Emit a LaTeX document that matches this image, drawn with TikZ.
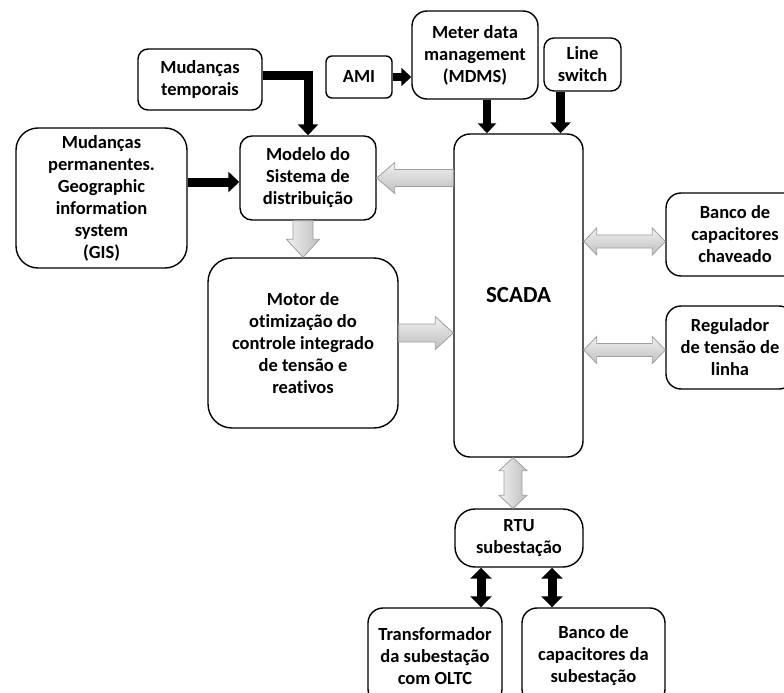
\documentclass[tikz,border=0pt]{standalone}
\usepackage{fontspec}
\setmainfont{Carlito}[Ligatures=NoCommon]
\usetikzlibrary{arrows.meta,calc}

\tikzset{
  box/.style={draw, line width=1.4pt, rounded corners=#1, align=center,
    font=\bfseries\fontsize{18.5}{22}\selectfont, inner sep=0pt, fill=white},
  box/.default=12pt,
  blk/.style={line width=9pt, line join=miter, -{Triangle[length=11pt,width=20pt]}},
  blkd/.style={line width=9pt, {Triangle[length=11pt,width=21pt]}-{Triangle[length=11pt,width=21pt]}},
  gstyle/.style={draw=gray!75, line width=0.8pt},
  hshade/.style={top color=gray!12, bottom color=gray!50},
  vshade/.style={left color=gray!12, right color=gray!50},
}

% single block arrow: #1 from, #2 tip, #3 half shaft, #4 half head, #5 head length, #6 shading
\newcommand{\gsarrow}[6]{%
  \coordinate (gh) at ($(#2)!#5!(#1)$);
  \shadedraw[gstyle,#6] ($(#1)!#3!90:(#2)$) -- ($(gh)!#3!-90:(#1)$) -- ($(gh)!#4!-90:(#1)$)
    -- (#2) -- ($(gh)!#4!90:(#1)$) -- ($(gh)!#3!90:(#1)$) -- ($(#1)!#3!-90:(#2)$) -- cycle;
}
% double block arrow
\newcommand{\gdarrow}[6]{%
  \coordinate (ga) at ($(#1)!#5!(#2)$);
  \coordinate (gb) at ($(#2)!#5!(#1)$);
  \shadedraw[gstyle,#6] (#1) -- ($(ga)!#4!90:(#2)$) -- ($(ga)!#3!90:(#2)$) -- ($(gb)!#3!-90:(#1)$)
    -- ($(gb)!#4!-90:(#1)$) -- (#2) -- ($(gb)!#4!90:(#1)$) -- ($(gb)!#3!90:(#1)$)
    -- ($(ga)!#3!-90:(#2)$) -- ($(ga)!#4!-90:(#2)$) -- cycle;
}

\begin{document}
\begin{tikzpicture}[x=1pt,y=-1pt]
\useasboundingbox (0,0) rectangle (784,693);
\clip (0,0) rectangle (784,693);

% nodes
\node[box=10pt, minimum width=124pt, minimum height=61pt] (temp) at (200,79.5) {Mudanças\\temporais};
\node[box=6pt, minimum width=66pt, minimum height=42pt] (ami) at (359,77) {AMI};
\node[box=22pt, minimum width=171pt, minimum height=140pt] (perm) at (101.5,198) {Mudanças\\permanentes.\\Geographic\\information\\system\\(GIS)};
\node[box=12pt, minimum width=136pt, minimum height=84pt] (modelo) at (308,178) {Modelo do\\Sistema de\\distribuição};
\node[box=15pt, minimum width=126pt, minimum height=88pt] (mdms) at (475,55) {Meter data\\management\\(MDMS)};
\node[box=10pt, minimum width=77pt, minimum height=53pt] (line) at (582.5,64.5) {Line\\switch};
\node[box=16pt, minimum width=129pt, minimum height=323pt, font=\bfseries\fontsize{23}{26}\selectfont] (scada) at (518.5,295.5) {SCADA};
\node[box=24pt, minimum width=190pt, minimum height=170pt] (motor) at (303,343) {Motor de\\otimização do\\controle integrado\\de tensão e\\reativos};
\node[box=15pt, minimum width=138pt, minimum height=83pt] (chav) at (735,234.5) {Banco de\\capacitores\\chaveado};
\node[box=15pt, minimum width=128pt, minimum height=83pt] (reg) at (730,347.5) {Regulador\\de tensão de\\linha};
\node[box=20pt, minimum width=128pt, minimum height=58pt] (rtu) at (519,538) {RTU\\subestação};
\node[box=15pt, minimum width=134pt, minimum height=96pt] (trans) at (435,656) {Transformador\\da subestação\\com OLTC};
\node[box=15pt, minimum width=143pt, minimum height=96pt] (bsub) at (593.5,656) {Banco de\\capacitores da\\subestação};

% black arrows
\draw[blk] ([yshift=4pt]temp.east) -| (modelo.north);
\coordinate (pm) at ([yshift=-4pt]modelo.west);
\draw[blk] (perm.east |- pm) -- (pm);
\draw[blk, -{Triangle[length=10pt,width=18pt]}, line width=8pt] (ami.east) -- (ami.east -| mdms.west);
\coordinate (m1) at ([xshift=12pt]mdms.south);
\draw[blk, -{Triangle[length=10pt,width=18pt]}, line width=8pt] (m1) -- (m1 |- scada.north);
\coordinate (l1) at ([xshift=-22pt]line.south);
\draw[blk] (l1) -- (l1 |- scada.north);
\coordinate (r1) at ([xshift=-38pt]rtu.south);
\coordinate (r2) at ([xshift=33pt]rtu.south);
\draw[blkd] (r1) -- (r1 |- trans.north);
\draw[blkd] (r2) -- (r2 |- bsub.north);

% gray block arrows
\coordinate (g1a) at (scada.west |- modelo.east);
\gsarrow{g1a}{modelo.east}{8.5pt}{15.5pt}{18pt}{hshade}
\coordinate (g2a) at (motor.north |- modelo.south);
\gsarrow{g2a}{motor.north}{10pt}{16.5pt}{18pt}{vshade}
\coordinate (g3a) at ([yshift=10pt]motor.east);
\coordinate (g3b) at (g3a -| scada.west);
\gsarrow{g3a}{g3b}{9pt}{16.5pt}{18pt}{hshade}
\coordinate (g4b) at ([yshift=-7pt]chav.west);
\coordinate (g4a) at (scada.east |- g4b);
\gdarrow{g4a}{g4b}{6.5pt}{13.5pt}{13pt}{hshade}
\coordinate (g5b) at ([yshift=-2.5pt]reg.west);
\coordinate (g5a) at (scada.east |- g5b);
\gdarrow{g5a}{g5b}{6.5pt}{13.5pt}{13pt}{hshade}
\coordinate (g6b) at ([xshift=-6pt]rtu.north);
\coordinate (g6a) at (g6b |- scada.south);
\gdarrow{g6a}{g6b}{9pt}{14pt}{13pt}{vshade}
\end{tikzpicture}
\end{document}
